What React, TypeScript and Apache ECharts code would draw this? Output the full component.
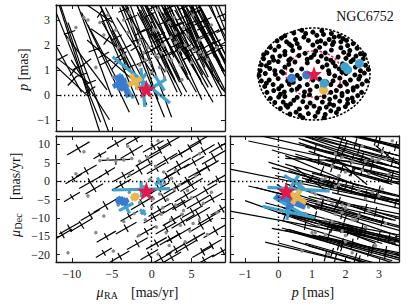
import React, { useEffect, useRef } from 'react';
import * as echarts from 'echarts';

const FONT = 'Liberation Serif';

// axis ranges
const pmRaRange = [-12, 9.2];
const pmDecRange = [-22, 12.3];
const plxRange = [-1.45, 3.6];
const skyRange = [-1, 1];
const pmRaStep = 5;
const pmDecStep = 5;
const plxStep = 1;

// cluster reference (red star)
const clusterPm = [-0.67, -2.7];
const clusterPlx = 0.23;

// field stars: [pmRA, pmDec, parallax, err_pmRA, err_pmDec, err_plx]
const fieldStars = [
  [-9.2, 8.9, 1.1, 1.4, 1.8, 2.2],
  [-6.5, 7.1, 3.25, 0.8, 1.0, 0.35],
  [-4.4, 10.3, 2.3, 1.2, 1.5, 1.5],
  [-4.5, 5.8, 1.2, 1.8, 0.15, 1.0],
  [-8.2, 2.8, 1.3, 1.3, 1.6, 1.1],
  [-5.6, 2.4, 2.2, 1.0, 1.3, 0.45],
  [-9.8, 0.6, 0.95, 1.0, 1.3, 0.5],
  [-7.7, -0.3, 0.5, 1.4, 1.7, 2.4],
  [-7.2, -2.1, 1.8, 1.1, 1.4, 1.9],
  [-10.0, -4.3, 0.55, 1.0, 1.3, 0.6],
  [-5.8, -6.6, 1.3, 1.5, 1.9, 2.0],
  [-7.7, -9.2, 0.2, 1.2, 1.5, 1.2],
  [-10.3, -12.8, 2.5, 1.3, 1.6, 2.5],
  [-11.2, -14.6, 1.5, 1.2, 1.5, 1.4],
  [-8.8, -11.9, 0.8, 1.4, 1.8, 2.8],
  [-5.7, -15.1, 3.0, 1.2, 1.5, 1.8],
  [-6.0, -19.5, 1.6, 1.0, 1.3, 1.2],
  [-3.2, -12.8, 1.9, 1.3, 1.6, 1.6],
  [-0.67, -13.7, 2.6, 1.2, 1.5, 2.0],
  [-2.5, 8.0, 3.1, 1.4, 1.8, 2.2],
  [-1.5, 3.0, 2.5, 1.6, 2.0, 1.6],
  [-3.8, -1.0, 1.6, 1.2, 1.5, 1.3],
  [-2.8, -9.5, 1.1, 1.1, 1.4, 1.5],
  [-1.8, -17.0, 2.2, 1.3, 1.6, 2.4],
  [-4.0, -20.5, 1.4, 1.2, 1.5, 1.8],
  [-0.5, 6.0, 1.7, 1.5, 1.9, 2.6],
  [-2.0, 11.5, 1.9, 1.2, 1.5, 1.2],
  [-3.5, 1.5, 3.4, 1.3, 1.6, 2.0],
  [-1.2, -6.0, 1.3, 1.4, 1.8, 2.2],
  [-0.3, -20.0, 3.2, 1.1, 1.4, 1.5],
  [1.0, 8.5, 2.4, 1.3, 1.6, 1.8],
  [1.8, 5.8, 2.2, 1.4, 1.8, 1.6],
  [0.6, 3.5, 1.9, 1.2, 1.5, 1.4],
  [3.4, 4.4, 2.8, 1.5, 1.9, 2.0],
  [5.9, 2.6, 2.2, 1.3, 1.6, 1.7],
  [3.1, -1.5, 2.0, 1.6, 2.0, 2.2],
  [4.3, -3.8, 2.6, 1.4, 1.8, 1.9],
  [5.9, -5.6, 1.8, 1.5, 1.9, 1.6],
  [5.1, -8.3, 2.9, 1.3, 1.6, 2.0],
  [7.2, -10.0, 2.0, 1.4, 1.8, 1.5],
  [1.8, -12.8, 1.6, 1.3, 1.6, 1.5],
  [3.4, -14.6, 2.4, 1.5, 1.9, 2.0],
  [5.5, -15.5, 3.3, 1.2, 1.5, 1.8],
  [4.3, -17.8, 1.9, 1.4, 1.8, 1.6],
  [6.4, -19.2, 2.7, 1.3, 1.6, 1.7],
  [0.6, -16.9, 1.9, 1.3, 1.6, 1.8],
  [2.5, -20.8, 2.3, 1.2, 1.5, 1.5],
  [7.8, 6.5, 2.5, 1.5, 1.9, 1.8],
  [8.3, 0.5, 1.8, 1.3, 1.6, 1.6],
  [6.8, -2.5, 3.0, 1.4, 1.8, 2.0],
  [8.0, -13.5, 2.1, 1.5, 1.9, 1.8],
  [2.2, 10.5, 3.0, 1.3, 1.6, 1.6],
  [4.8, 9.0, 1.8, 1.4, 1.8, 1.5],
  [1.5, -4.5, 2.9, 1.5, 1.9, 2.1],
  [2.8, -7.0, 1.7, 1.4, 1.8, 1.6],
  [0.3, -9.8, 2.4, 1.3, 1.6, 1.8],
  [3.9, -11.0, 3.1, 1.4, 1.8, 2.0],
  [6.2, -12.0, 1.5, 1.5, 1.9, 1.4],
  [8.8, -7.5, 2.6, 1.4, 1.8, 1.7],
  [7.5, -17.5, 1.8, 1.3, 1.6, 1.6],
  [2.0, 1.2, 3.3, 1.4, 1.8, 1.9],
  [4.5, 0.0, 1.5, 1.6, 2.0, 1.8],
  [0.9, -2.0, 2.2, 1.3, 1.6, 1.7],
  [5.3, 5.2, 3.4, 1.3, 1.6, 1.6],
  [3.0, -18.5, 2.8, 1.2, 1.5, 1.8],
  [1.2, -21.0, 1.7, 1.3, 1.6, 1.7],
  [6.6, -21.5, 2.4, 1.2, 1.5, 1.5],
  [8.6, 9.5, 2.0, 1.4, 1.8, 1.7],
  [3.6, 7.5, 1.9, 1.3, 1.6, 1.3],
  [5.8, -9.0, 1.9, 1.5, 1.9, 1.9],
  [2.3, -15.8, 3.5, 1.3, 1.6, 1.7],
  [7.0, 3.8, 1.6, 1.4, 1.8, 1.8],
  [0.2, 9.5, 3.5, 1.3, 1.6, 2.0],
  [4.0, -6.0, 3.5, 1.4, 1.8, 2.1],
  [6.0, 11.0, 2.9, 1.3, 1.6, 1.6],
  [8.9, -19.0, 3.2, 1.3, 1.6, 2.0],
  [1.0, -7.8, 3.8, 1.4, 1.8, 2.2],
  [3.2, 2.8, 4.0, 1.5, 1.9, 2.4],
  [5.0, -1.0, 4.2, 1.4, 1.8, 2.0],
  [2.7, -10.5, 4.5, 1.3, 1.6, 2.3],
  [7.6, -4.8, 3.9, 1.3, 1.6, 2.1],
  [6.5, 8.2, 4.3, 1.4, 1.8, 2.2],
];

// precise stars (grey dots): [pmRA, pmDec, parallax]
const grayStars = [
  [-6.5, 5.6, 2.9], [-5.5, 6.0, 3.2], [-4.5, 5.5, 2.6], [-3.5, 5.8, 3.0], [-2.5, 6.2, 2.8],
  [-1.5, 5.4, 2.2], [-0.5, 6.5, 1.9], [0.5, 4.0, 1.6], [1.5, 2.5, 2.0], [2.5, 0.8, 1.4],
  [3.5, -1.0, 1.8], [4.5, -2.5, 2.4], [1.0, -3.5, 1.1], [2.0, -5.0, 1.5], [3.0, -6.5, 2.1],
  [4.0, -8.0, 2.7], [5.0, -4.5, 1.3], [0.0, -7.0, 0.9], [1.2, -9.0, 1.7], [2.4, -10.5, 2.3],
  [3.6, -12.0, 1.2], [4.8, -13.5, 1.9], [0.6, -12.5, 2.6], [1.8, -14.0, 1.0], [-0.8, -10.5, 1.4],
  [-2.2, -8.8, 0.8], [-3.5, -11.0, 1.6], [-1.6, -14.8, 2.0], [6.0, -10.5, 2.2], [6.5, -6.0, 1.6],
  [7.5, -3.0, 2.8], [5.5, 1.5, 1.8], [3.0, 3.0, 2.5], [-0.2, 0.5, 1.3], [-2.8, -3.0, 1.0],
  [-4.2, -6.5, 1.9], [-6.0, -9.5, 2.4], [-8.0, -4.0, 3.0], [-9.5, 2.0, 2.7], [-7.0, -14.0, 1.1],
  [-10.5, -19.5, 2.2], [-4.8, -19.0, 0.7], [0.8, -19.8, 1.5], [4.2, -16.5, 2.0], [7.0, -14.5, 1.4],
  [8.2, -8.5, 1.9], [2.8, -2.2, 3.1], [0.2, -4.8, 2.6], [-1.0, -1.5, 1.7], [1.6, -0.5, 0.7],
  [3.8, -9.0, 0.6], [5.2, -11.5, 3.2], [2.2, -17.5, 2.9], [-2.8, 1.8, 3.3], [-8.5, 8.0, 3.1],
  [-3.0, 9.5, 2.5], [0.8, 11.0, 3.4], [6.0, 7.5, 1.7], [-1.5, -5.8, 1.2], [1.4, -7.2, 2.0],
];

// candidate members: [pmRA, pmDec, parallax, err_pmRA, err_pmDec, err_plx, colour index]
const memberColors = ['#3fa2cf', '#3a7bd0', '#e8b64c'];
const memberWidths = [3.2, 5, 5];
const memberStars = [
  [-1.3, -2.2, 0.6, 3.6, 0.2, 0.93, 0],
  [-1.1, -8.4, 0.3, 0.25, 0.6, 0.78, 0],
  [1.0, -0.2, 0.47, 0.6, 0.7, 0.3, 0],
  [-3.2, -7.0, 0.35, 0.9, 1.0, 0.5, 0],
  [-4.0, -5.2, 0.47, 0.5, 0.6, 0.3, 1],
  [-3.4, -5.6, 0.35, 0.5, 0.6, 0.45, 1],
  [-2.1, -4.3, 0.53, 0.5, 0.6, 0.3, 2],
];
const redColor = '#e5184c';

// sky positions (in units of the outer radius)
const outerRadius = 1;
const innerRadius = 0.5;
const skyStars = [
  [-0.22, 0.95], [-0.02, 0.91], [0.14, 0.94], [0.31, 0.88],
  [-0.52, 0.83], [-0.36, 0.89], [-0.18, 0.8], [0.05, 0.84], [0.17, 0.86], [0.45, 0.82], [0.52, 0.77],
  [-0.66, 0.72], [-0.49, 0.7], [-0.33, 0.75], [-0.1, 0.73], [0.06, 0.7], [0.27, 0.75], [0.35, 0.69], [0.58, 0.73], [0.7, 0.66],
  [-0.78, 0.58], [-0.63, 0.6], [-0.4, 0.61], [-0.26, 0.57], [-0.02, 0.63], [0.1, 0.58], [0.33, 0.64], [0.48, 0.57], [0.6, 0.62], [0.77, 0.56],
  [-0.84, 0.46], [-0.7, 0.52], [-0.52, 0.49], [-0.38, 0.51], [-0.16, 0.45], [0.03, 0.5], [0.2, 0.46], [0.31, 0.52], [0.53, 0.47], [0.64, 0.51], [0.83, 0.44],
  [-0.9, 0.33], [-0.74, 0.37], [-0.61, 0.39], [-0.42, 0.33], [-0.27, 0.4], [-0.05, 0.36], [0.13, 0.39], [0.22, 0.33], [0.43, 0.37], [0.57, 0.34], [0.75, 0.39], [0.88, 0.33],
  [-0.94, 0.2], [-0.8, 0.25], [-0.64, 0.27], [-0.45, 0.21], [-0.34, 0.26], [-0.12, 0.24], [0.07, 0.27], [0.23, 0.2], [0.34, 0.25], [0.51, 0.22], [0.66, 0.27], [0.92, 0.19],
  [-0.96, 0.07], [-0.79, 0.12], [-0.7, 0.07], [-0.52, 0.15], [-0.4, 0.08], [-0.22, 0.11], [0.15, 0.15], [0.26, 0.07], [0.45, 0.11], [0.74, 0.15], [0.83, 0.07], [0.97, 0.1],
  [-0.98, -0.03], [-0.87, 0.01], [-0.69, -0.01], [-0.55, 0.02], [-0.3, -0.03], [0.27, 0.01], [0.37, -0.04], [0.57, 0.01], [0.73, -0.02], [0.9, 0.02],
  [-0.94, -0.15], [-0.8, -0.13], [-0.64, -0.1], [-0.47, -0.15], [-0.25, -0.1], [-0.02, -0.13], [0.1, -0.11], [0.34, -0.15], [0.46, -0.09], [0.65, -0.13], [0.8, -0.11], [0.94, -0.15],
  [-0.88, -0.27], [-0.73, -0.23], [-0.58, -0.26], [-0.44, -0.22], [-0.26, -0.27], [-0.12, -0.23], [0.05, -0.27], [0.3, -0.23], [0.47, -0.26], [0.58, -0.22], [0.77, -0.27], [0.86, -0.22],
  [-0.84, -0.4], [-0.72, -0.36], [-0.53, -0.39], [-0.4, -0.35], [-0.17, -0.39], [-0.07, -0.35], [0.3, -0.4], [0.4, -0.36], [0.6, -0.38], [0.7, -0.35], [0.85, -0.4],
  [-0.78, -0.53], [-0.63, -0.5], [-0.52, -0.49], [-0.3, -0.51], [-0.18, -0.48], [0.05, -0.52], [0.18, -0.49], [0.38, -0.5], [0.5, -0.47], [0.68, -0.52], [0.78, -0.47],
  [-0.7, -0.62], [-0.55, -0.61], [-0.42, -0.65], [-0.2, -0.6], [-0.07, -0.63], [0.15, -0.61], [0.28, -0.65], [0.46, -0.59], [0.6, -0.64], [0.7, -0.6],
  [-0.6, -0.75], [-0.47, -0.72], [-0.26, -0.76], [-0.13, -0.72], [0.1, -0.75], [0.22, -0.72], [0.44, -0.76], [0.56, -0.71],
  [-0.43, -0.87], [-0.32, -0.83], [-0.1, -0.86], [0.07, -0.83], [0.2, -0.88], [0.4, -0.84],
  [-0.2, -0.95], [0.02, -0.92], [0.18, -0.95],
  [-0.58, 0.78], [-0.3, 0.66], [0.2, 0.66], [0.48, 0.7], [-0.72, 0.3], [-0.52, 0.42], [0.0, 0.42], [0.62, 0.42],
  [0.7, 0.31], [-0.85, 0.18], [-0.58, 0.05], [0.5, 0.04], [0.63, 0.08], [0.82, -0.05], [-0.85, -0.2], [-0.37, -0.18],
  [0.22, -0.17], [0.55, -0.18], [0.7, -0.3], [-0.63, -0.32], [-0.3, -0.32], [0.15, -0.3], [0.5, -0.42], [-0.6, -0.44],
  [-0.08, -0.45], [0.28, -0.55], [-0.36, -0.57], [0.6, -0.55], [-0.5, -0.68], [0.35, -0.68], [0.0, -0.7], [-0.25, -0.9],
  [0.3, -0.8], [-0.15, 0.88], [0.36, 0.8], [-0.44, 0.65], [0.12, 0.72], [-0.9, 0.42], [0.9, 0.42], [-0.12, 0.32],
  [0.3, 0.3], [0.38, 0.17], [-0.45, 0.3],
];
// sky members: [x, y, colour index]
const skyMembers = [
  [0.17, -0.35, 2],
  [-0.4, -0.09, 1],
  [-0.13, -0.02, 1],
  [0.55, 0.16, 0],
  [0.6, 0.09, 0],
  [0.81, 0.23, 0],
  [0.18, -0.2, 0],
];

const STAR_PATH =
  'path://M0,-10L2.35,-3.24L9.51,-3.09L3.8,1.24L5.88,8.09L0,4L-5.88,8.09L-3.8,1.24L-9.51,-3.09L-2.35,-3.24Z';

// projection tilt of the error ellipses in individual panels
const fieldTiltTL = 2;
const decTiltBR = 2.6;

const fmt = (step: number) => (v: number) => {
  const r = Math.round(v / step) * step;
  if (Math.abs(v - r) > 1e-6) return '';
  const n = Math.round(r * 1000) / 1000;
  if (n === 0) return '0';
  return n < 0 ? '\u2212' + Math.abs(n) : String(n);
};

const frameColor = '#1a1a1a';

function axis(gridIndex: number, range: number[], position: string, labels: boolean, step: number, show = true) {
  return {
    type: 'value',
    gridIndex,
    min: range[0],
    max: range[1],
    position,
    show,
    axisLine: { show: true, onZero: false, lineStyle: { color: frameColor, width: 1.3 } },
    axisTick: { show: true, inside: true, length: 4, lineStyle: { color: frameColor, width: 1 } },
    splitLine: { show: false },
    axisLabel: {
      show: labels,
      formatter: fmt(step),
      fontFamily: FONT,
      fontSize: 12,
      color: '#222',
      margin: 6,
    },
  };
}

function crossSeries(xi: number, yi: number, data: number[][], color: string | null, width: number, f: number, mn: number, mx: number, z: number) {
  return {
    type: 'custom',
    xAxisIndex: xi,
    yAxisIndex: yi,
    clip: true,
    silent: true,
    z,
    encode: { x: 0, y: 1 },
    data,
    renderItem: (params: any, api: any) => {
      const x = api.value(0);
      const y = api.value(1);
      const dx = api.value(2);
      const dy = api.value(3);
      const ci = api.value(4);
      const col = color ?? memberColors[ci];
      const lw = color ? width : memberWidths[ci];
      const c = api.coord([x, y]);
      const p1 = api.coord([x + dx, y + dy]);
      const p2 = api.coord([x - dx, y - dy]);
      const vx = p1[0] - c[0];
      const vy = p1[1] - c[1];
      const L = Math.hypot(vx, vy) || 1;
      const m = Math.max(mn, Math.min(mx, L * f));
      const nx = (-vy / L) * m;
      const ny = (vx / L) * m;
      const style = { stroke: col, lineWidth: lw, fill: 'none' };
      return {
        type: 'group',
        children: [
          { type: 'line', shape: { x1: p2[0], y1: p2[1], x2: p1[0], y2: p1[1] }, style },
          { type: 'line', shape: { x1: c[0] - nx, y1: c[1] - ny, x2: c[0] + nx, y2: c[1] + ny }, style },
        ],
      };
    },
  };
}

function refLines(xi: number, yi: number, z: number) {
  return {
    type: 'scatter',
    xAxisIndex: xi,
    yAxisIndex: yi,
    data: [],
    silent: true,
    z,
    markLine: {
      silent: true,
      symbol: 'none',
      label: { show: false },
      lineStyle: { type: [1.4, 2.6], color: '#000', width: 1.4 },
      data: [{ xAxis: 0 }, { yAxis: 0 }],
    },
  };
}

function ringSeries(radius: number, color: string, dash: number[], width: number) {
  return {
    type: 'custom',
    xAxisIndex: 6,
    yAxisIndex: 6,
    clip: false,
    silent: true,
    data: [[0, 0, radius]],
    renderItem: (params: any, api: any) => {
      const c = api.coord([api.value(0), api.value(1)]);
      const s = api.size([api.value(2), api.value(2)]);
      return {
        type: 'ellipse',
        shape: { cx: c[0], cy: c[1], rx: s[0], ry: s[1] },
        style: { fill: 'none', stroke: color, lineWidth: width, lineDash: dash, lineCap: 'round' },
      };
    },
  };
}

const titleStyle = { fontFamily: FONT, fontSize: 14, fill: '#111' };

function buildOption() {
  const tl = fieldStars.map((s) => [s[0], s[2], s[3] * fieldTiltTL, -s[5]]);
  const bl = fieldStars.map((s) => [s[0], s[1], s[3], s[4]]);
  const br = fieldStars.map((s) => [s[2], s[1], s[5], -s[4] * decTiltBR]);
  const tlM = memberStars.map((s) => [s[0], s[2], s[3], -s[5], s[6]]);
  const blM = memberStars.map((s) => [s[0], s[1], s[3], s[4], s[6]]);
  const brM = memberStars.map((s) => [s[2], s[1], s[5], -s[4] * decTiltBR, s[6]]);

  const gray = (xi: number, yi: number, data: number[][]) => ({
    type: 'scatter',
    xAxisIndex: xi,
    yAxisIndex: yi,
    symbolSize: 3.5,
    silent: true,
    z: 3,
    itemStyle: { color: '#8a8a8a', opacity: 1 },
    data,
  });
  const red = (xi: number, yi: number, pt: number[], size: number) => ({
    type: 'scatter',
    xAxisIndex: xi,
    yAxisIndex: yi,
    symbol: STAR_PATH,
    symbolSize: size,
    silent: true,
    z: 6,
    itemStyle: { color: redColor, opacity: 1 },
    data: [pt],
  });

  return {
    animation: false,
    backgroundColor: '#fff',
    textStyle: { fontFamily: FONT },
    grid: [
      { left: 56, top: 5, width: 169, height: 126, outerBoundsMode: 'none' },
      { left: 56, top: 136, width: 169, height: 126, outerBoundsMode: 'none' },
      { left: 230, top: 136, width: 169, height: 126, outerBoundsMode: 'none' },
      { left: 258, top: 28, width: 112, height: 92, outerBoundsMode: 'none' },
    ],
    xAxis: [
      axis(0, pmRaRange, 'bottom', false, pmRaStep),
      axis(0, pmRaRange, 'top', false, pmRaStep),
      axis(1, pmRaRange, 'bottom', true, pmRaStep),
      axis(1, pmRaRange, 'top', false, pmRaStep),
      axis(2, plxRange, 'bottom', true, plxStep),
      axis(2, plxRange, 'top', false, plxStep),
      axis(3, skyRange, 'bottom', false, 1, false),
    ],
    yAxis: [
      axis(0, plxRange, 'left', true, plxStep),
      axis(0, plxRange, 'right', false, plxStep),
      axis(1, pmDecRange, 'left', true, pmDecStep),
      axis(1, pmDecRange, 'right', false, pmDecStep),
      axis(2, pmDecRange, 'left', false, pmDecStep),
      axis(2, pmDecRange, 'right', false, pmDecStep),
      axis(3, skyRange, 'left', false, 1, false),
    ],
    series: [
      refLines(0, 0, 1),
      refLines(2, 2, 1),
      refLines(4, 4, 1),
      crossSeries(0, 0, tl, '#000', 1.2, 0.3, 3, 6, 2),
      crossSeries(2, 2, bl, '#000', 1.2, 0.35, 2.5, 5, 2),
      crossSeries(4, 4, br, '#000', 1.2, 0.3, 2.5, 5, 2),
      gray(0, 0, grayStars.map((s) => [s[0], s[2]])),
      gray(2, 2, grayStars.map((s) => [s[0], s[1]])),
      gray(4, 4, grayStars.map((s) => [s[2], s[1]])),
      crossSeries(0, 0, tlM, null, 3.2, 0.9, 4, 8, 4),
      crossSeries(2, 2, blM, null, 3.2, 0.9, 4, 8, 4),
      crossSeries(4, 4, brM, null, 3.2, 0.9, 4, 8, 4),
      red(0, 0, [clusterPm[0], clusterPlx], 19),
      red(2, 2, [clusterPm[0], clusterPm[1]], 19),
      red(4, 4, [clusterPlx, clusterPm[1]], 19),
      // sky panel
      ringSeries(innerRadius, redColor, [1.2, 3], 1.5),
      {
        type: 'scatter',
        xAxisIndex: 6,
        yAxisIndex: 6,
        symbolSize: 5,
        silent: true,
        itemStyle: { color: '#000', opacity: 1 },
        data: skyStars,
      },
      ringSeries(outerRadius, '#000', [1.2, 2.8], 1.6),
      {
        type: 'scatter',
        xAxisIndex: 6,
        yAxisIndex: 6,
        symbolSize: 9,
        silent: true,
        z: 4,
        data: skyMembers.map((m) => ({ value: [m[0], m[1]], itemStyle: { color: memberColors[m[2]], opacity: 1 } })),
      },
      red(6, 6, [0, 0], 16),
    ],
    graphic: [
      {
        type: 'text',
        x: 365,
        y: 16,
        style: { ...titleStyle, text: 'NGC6752', align: 'center', verticalAlign: 'middle' },
      },
      {
        type: 'group',
        x: 96.5,
        y: 292.5,
        children: [
          { type: 'text', x: 0, y: 0, style: { ...titleStyle, fontStyle: 'italic', text: '\u03bc', align: 'left', verticalAlign: 'middle' } },
          { type: 'text', x: 7.5, y: 3, style: { ...titleStyle, fontSize: 10, text: 'RA', align: 'left', verticalAlign: 'middle' } },
          { type: 'text', x: 34.5, y: 0, style: { ...titleStyle, text: '[mas/yr]', align: 'left', verticalAlign: 'middle' } },
        ],
      },
      {
        type: 'text',
        x: 313,
        y: 292.5,
        style: {
          ...titleStyle,
          text: '{i|p} [mas]',
          rich: { i: { fontFamily: FONT, fontSize: 14, fontStyle: 'italic', fill: '#111' } },
          align: 'center',
          verticalAlign: 'middle',
        },
      },
      {
        type: 'text',
        x: 23,
        y: 69.5,
        rotation: Math.PI / 2,
        style: {
          ...titleStyle,
          text: '{i|p} [mas]',
          rich: { i: { fontFamily: FONT, fontSize: 14, fontStyle: 'italic', fill: '#111' } },
          align: 'center',
          verticalAlign: 'middle',
        },
      },
      {
        type: 'group',
        x: 15,
        y: 237,
        rotation: Math.PI / 2,
        children: [
          { type: 'text', x: 0, y: 0, style: { ...titleStyle, fontStyle: 'italic', text: '\u03bc', align: 'left', verticalAlign: 'middle' } },
          { type: 'text', x: 7.5, y: 3, style: { ...titleStyle, fontSize: 10, text: 'Dec', align: 'left', verticalAlign: 'middle' } },
          { type: 'text', x: 37, y: 0, style: { ...titleStyle, text: '[mas/yr]', align: 'left', verticalAlign: 'middle' } },
        ],
      },
    ],
  };
}

export default function App() {
  const ref = useRef<HTMLDivElement>(null);
  useEffect(() => {
    if (!ref.current) return;
    const chart = echarts.init(ref.current, null, { renderer: 'svg' });
    chart.setOption(buildOption() as any);
    return () => chart.dispose();
  }, []);
  return (
    <div
      ref={ref}
      style={{ position: 'absolute', left: 0, top: 0, width: 407, height: 305, background: '#fff' }}
    />
  );
}
